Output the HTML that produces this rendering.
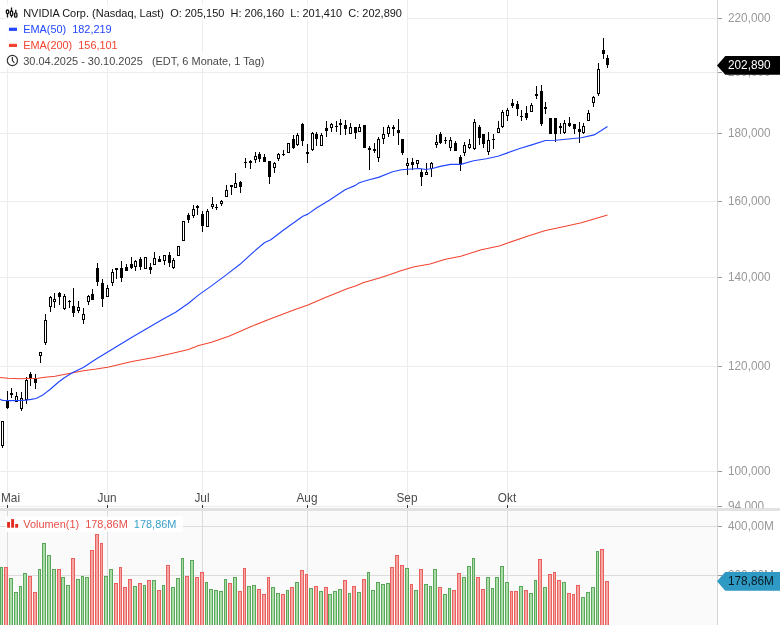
<!DOCTYPE html>
<html lang="de"><head><meta charset="utf-8"><title>NVIDIA Corp. Chart</title>
<style>
html,body{margin:0;padding:0;background:#fff;}
body{width:780px;height:625px;position:relative;overflow:hidden;font-family:"Liberation Sans",sans-serif;font-size:11.7px;}
#chart{position:absolute;left:0;top:0;width:780px;height:625px;}
svg{position:absolute;left:0;top:0;}
.lbl{position:absolute;left:727.5px;color:#999;line-height:14px;height:14px;white-space:nowrap;font-size:12.9px;transform:scaleX(0.915);transform-origin:0 50%;}
.xl{position:absolute;top:490.5px;color:#4a4a4a;line-height:14px;height:14px;white-space:nowrap;font-size:12.9px;transform:scaleX(0.915);transform-origin:50% 50%;}
.leg{position:absolute;left:23.2px;line-height:14px;height:14px;white-space:pre;font-size:10.97px;}
.tag{position:absolute;left:727.5px;line-height:14px;height:14px;white-space:nowrap;font-size:12.9px;transform:scaleX(0.915);transform-origin:0 50%;}
.clip{position:absolute;left:719px;top:0;width:61px;height:508px;overflow:hidden;}
</style></head><body><div id="chart">
<svg width="780" height="625" viewBox="0 0 780 625">
<rect x="0" y="511" width="718" height="114" fill="#fafafa"/>
<g shape-rendering="crispEdges">
<rect x="7" y="0" width="1" height="508" fill="#ececec"/>
<rect x="7" y="511" width="1" height="114" fill="#dcdcdc"/>
<rect x="107" y="0" width="1" height="508" fill="#ececec"/>
<rect x="107" y="511" width="1" height="114" fill="#dcdcdc"/>
<rect x="202" y="0" width="1" height="508" fill="#ececec"/>
<rect x="202" y="511" width="1" height="114" fill="#dcdcdc"/>
<rect x="307" y="0" width="1" height="508" fill="#ececec"/>
<rect x="307" y="511" width="1" height="114" fill="#dcdcdc"/>
<rect x="407" y="0" width="1" height="508" fill="#ececec"/>
<rect x="407" y="511" width="1" height="114" fill="#dcdcdc"/>
<rect x="507" y="0" width="1" height="508" fill="#ececec"/>
<rect x="507" y="511" width="1" height="114" fill="#dcdcdc"/>
<rect x="0" y="18" width="718" height="1" fill="#ececec"/>
<rect x="718" y="18" width="4" height="1" fill="#999"/>
<rect x="0" y="72" width="718" height="1" fill="#ececec"/>
<rect x="718" y="72" width="4" height="1" fill="#999"/>
<rect x="0" y="133" width="718" height="1" fill="#ececec"/>
<rect x="718" y="133" width="4" height="1" fill="#999"/>
<rect x="0" y="201" width="718" height="1" fill="#ececec"/>
<rect x="718" y="201" width="4" height="1" fill="#999"/>
<rect x="0" y="277" width="718" height="1" fill="#ececec"/>
<rect x="718" y="277" width="4" height="1" fill="#999"/>
<rect x="0" y="366" width="718" height="1" fill="#ececec"/>
<rect x="718" y="366" width="4" height="1" fill="#999"/>
<rect x="0" y="471" width="718" height="1" fill="#ececec"/>
<rect x="718" y="471" width="4" height="1" fill="#999"/>
<rect x="0" y="506" width="718" height="1" fill="#ececec"/>
<rect x="718" y="506" width="4" height="1" fill="#999"/>
<rect x="0" y="526" width="718" height="1" fill="#dcdcdc"/>
<rect x="718" y="526" width="4" height="1" fill="#999"/>
<rect x="0" y="575" width="718" height="1" fill="#dcdcdc"/>
<rect x="718" y="575" width="4" height="1" fill="#999"/>
<rect x="717" y="0" width="1" height="625" fill="#d6d6d6"/>
<rect x="0" y="508" width="780" height="3" fill="#e2e2e2"/>
<rect x="7" y="505" width="1" height="3" fill="#333"/>
<rect x="107" y="505" width="1" height="3" fill="#333"/>
<rect x="202" y="505" width="1" height="3" fill="#333"/>
<rect x="307" y="505" width="1" height="3" fill="#333"/>
<rect x="407" y="505" width="1" height="3" fill="#333"/>
<rect x="507" y="505" width="1" height="3" fill="#333"/>
<rect x="2" y="421" width="1" height="27" fill="#000"/>
<rect x="1" y="421" width="3" height="25" fill="#000"/>
<rect x="2" y="422" width="1" height="23" fill="#fff"/>
<rect x="7" y="391" width="1" height="18" fill="#000"/>
<rect x="6" y="400" width="3" height="8" fill="#000"/>
<rect x="11" y="388" width="1" height="10" fill="#000"/>
<rect x="10" y="393" width="3" height="2" fill="#000"/>
<rect x="16" y="392" width="1" height="10" fill="#000"/>
<rect x="15" y="396" width="3" height="6" fill="#000"/>
<rect x="16" y="397" width="1" height="4" fill="#fff"/>
<rect x="21" y="392" width="1" height="19" fill="#000"/>
<rect x="20" y="398" width="3" height="11" fill="#000"/>
<rect x="21" y="399" width="1" height="9" fill="#fff"/>
<rect x="26" y="377" width="1" height="27" fill="#000"/>
<rect x="25" y="380" width="3" height="20" fill="#000"/>
<rect x="26" y="381" width="1" height="18" fill="#fff"/>
<rect x="30" y="372" width="1" height="14" fill="#000"/>
<rect x="29" y="374" width="3" height="5" fill="#000"/>
<rect x="35" y="374" width="1" height="15" fill="#000"/>
<rect x="34" y="378" width="3" height="5" fill="#000"/>
<rect x="40" y="352" width="1" height="11" fill="#000"/>
<rect x="39" y="352" width="3" height="4" fill="#000"/>
<rect x="40" y="353" width="1" height="2" fill="#fff"/>
<rect x="45" y="314" width="1" height="31" fill="#000"/>
<rect x="44" y="320" width="3" height="23" fill="#000"/>
<rect x="45" y="321" width="1" height="21" fill="#fff"/>
<rect x="50" y="296" width="1" height="16" fill="#000"/>
<rect x="49" y="297" width="3" height="10" fill="#000"/>
<rect x="50" y="298" width="1" height="8" fill="#fff"/>
<rect x="54" y="293" width="1" height="15" fill="#000"/>
<rect x="53" y="299" width="3" height="3" fill="#000"/>
<rect x="54" y="300" width="1" height="1" fill="#fff"/>
<rect x="59" y="292" width="1" height="13" fill="#000"/>
<rect x="58" y="293" width="3" height="4" fill="#000"/>
<rect x="64" y="294" width="1" height="16" fill="#000"/>
<rect x="63" y="296" width="3" height="13" fill="#000"/>
<rect x="64" y="297" width="1" height="11" fill="#fff"/>
<rect x="69" y="300" width="1" height="8" fill="#000"/>
<rect x="68" y="301" width="3" height="1" fill="#000"/>
<rect x="73" y="288" width="1" height="29" fill="#000"/>
<rect x="72" y="306" width="3" height="7" fill="#000"/>
<rect x="78" y="301" width="1" height="12" fill="#000"/>
<rect x="77" y="307" width="3" height="4" fill="#000"/>
<rect x="78" y="308" width="1" height="2" fill="#fff"/>
<rect x="83" y="308" width="1" height="16" fill="#000"/>
<rect x="82" y="314" width="3" height="6" fill="#000"/>
<rect x="83" y="315" width="1" height="4" fill="#fff"/>
<rect x="88" y="295" width="1" height="10" fill="#000"/>
<rect x="87" y="296" width="3" height="6" fill="#000"/>
<rect x="88" y="297" width="1" height="4" fill="#fff"/>
<rect x="92" y="289" width="1" height="11" fill="#000"/>
<rect x="91" y="294" width="3" height="6" fill="#000"/>
<rect x="97" y="263" width="1" height="23" fill="#000"/>
<rect x="96" y="268" width="3" height="14" fill="#000"/>
<rect x="102" y="279" width="1" height="28" fill="#000"/>
<rect x="101" y="283" width="3" height="16" fill="#000"/>
<rect x="107" y="285" width="1" height="12" fill="#000"/>
<rect x="106" y="288" width="3" height="9" fill="#000"/>
<rect x="107" y="289" width="1" height="7" fill="#fff"/>
<rect x="112" y="269" width="1" height="17" fill="#000"/>
<rect x="111" y="272" width="3" height="11" fill="#000"/>
<rect x="112" y="273" width="1" height="9" fill="#fff"/>
<rect x="116" y="268" width="1" height="11" fill="#000"/>
<rect x="115" y="268" width="3" height="2" fill="#000"/>
<rect x="121" y="261" width="1" height="21" fill="#000"/>
<rect x="120" y="268" width="3" height="10" fill="#000"/>
<rect x="126" y="264" width="1" height="7" fill="#000"/>
<rect x="125" y="267" width="3" height="4" fill="#000"/>
<rect x="131" y="257" width="1" height="12" fill="#000"/>
<rect x="130" y="264" width="3" height="4" fill="#000"/>
<rect x="135" y="260" width="1" height="11" fill="#000"/>
<rect x="134" y="261" width="3" height="6" fill="#000"/>
<rect x="135" y="262" width="1" height="4" fill="#fff"/>
<rect x="140" y="257" width="1" height="13" fill="#000"/>
<rect x="139" y="259" width="3" height="8" fill="#000"/>
<rect x="145" y="257" width="1" height="12" fill="#000"/>
<rect x="144" y="257" width="3" height="12" fill="#000"/>
<rect x="145" y="258" width="1" height="10" fill="#fff"/>
<rect x="150" y="263" width="1" height="11" fill="#000"/>
<rect x="149" y="267" width="3" height="3" fill="#000"/>
<rect x="154" y="252" width="1" height="13" fill="#000"/>
<rect x="153" y="258" width="3" height="7" fill="#000"/>
<rect x="154" y="259" width="1" height="5" fill="#fff"/>
<rect x="159" y="256" width="1" height="6" fill="#000"/>
<rect x="158" y="259" width="3" height="3" fill="#000"/>
<rect x="164" y="255" width="1" height="10" fill="#000"/>
<rect x="163" y="255" width="3" height="6" fill="#000"/>
<rect x="164" y="256" width="1" height="4" fill="#fff"/>
<rect x="169" y="252" width="1" height="15" fill="#000"/>
<rect x="168" y="255" width="3" height="8" fill="#000"/>
<rect x="173" y="258" width="1" height="11" fill="#000"/>
<rect x="172" y="260" width="3" height="8" fill="#000"/>
<rect x="173" y="261" width="1" height="6" fill="#fff"/>
<rect x="178" y="246" width="1" height="10" fill="#000"/>
<rect x="177" y="246" width="3" height="10" fill="#000"/>
<rect x="178" y="247" width="1" height="8" fill="#fff"/>
<rect x="183" y="221" width="1" height="20" fill="#000"/>
<rect x="182" y="221" width="3" height="20" fill="#000"/>
<rect x="183" y="222" width="1" height="18" fill="#fff"/>
<rect x="188" y="213" width="1" height="10" fill="#000"/>
<rect x="187" y="215" width="3" height="5" fill="#000"/>
<rect x="193" y="205" width="1" height="13" fill="#000"/>
<rect x="192" y="209" width="3" height="7" fill="#000"/>
<rect x="193" y="210" width="1" height="5" fill="#fff"/>
<rect x="197" y="205" width="1" height="10" fill="#000"/>
<rect x="196" y="206" width="3" height="2" fill="#000"/>
<rect x="202" y="211" width="1" height="21" fill="#000"/>
<rect x="201" y="214" width="3" height="12" fill="#000"/>
<rect x="207" y="209" width="1" height="18" fill="#000"/>
<rect x="206" y="211" width="3" height="16" fill="#000"/>
<rect x="207" y="212" width="1" height="14" fill="#fff"/>
<rect x="212" y="197" width="1" height="12" fill="#000"/>
<rect x="211" y="204" width="3" height="3" fill="#000"/>
<rect x="212" y="205" width="1" height="1" fill="#fff"/>
<rect x="216" y="204" width="1" height="6" fill="#000"/>
<rect x="215" y="207" width="3" height="1" fill="#000"/>
<rect x="221" y="200" width="1" height="6" fill="#000"/>
<rect x="220" y="201" width="3" height="3" fill="#000"/>
<rect x="221" y="202" width="1" height="1" fill="#fff"/>
<rect x="226" y="185" width="1" height="12" fill="#000"/>
<rect x="225" y="190" width="3" height="7" fill="#000"/>
<rect x="226" y="191" width="1" height="5" fill="#fff"/>
<rect x="231" y="185" width="1" height="10" fill="#000"/>
<rect x="230" y="185" width="3" height="2" fill="#000"/>
<rect x="235" y="173" width="1" height="15" fill="#000"/>
<rect x="234" y="183" width="3" height="5" fill="#000"/>
<rect x="235" y="184" width="1" height="3" fill="#fff"/>
<rect x="240" y="181" width="1" height="12" fill="#000"/>
<rect x="239" y="182" width="3" height="5" fill="#000"/>
<rect x="245" y="158" width="1" height="10" fill="#000"/>
<rect x="244" y="162" width="3" height="1" fill="#000"/>
<rect x="250" y="160" width="1" height="9" fill="#000"/>
<rect x="249" y="161" width="3" height="2" fill="#000"/>
<rect x="255" y="152" width="1" height="11" fill="#000"/>
<rect x="254" y="156" width="3" height="4" fill="#000"/>
<rect x="255" y="157" width="1" height="2" fill="#fff"/>
<rect x="259" y="152" width="1" height="10" fill="#000"/>
<rect x="258" y="154" width="3" height="5" fill="#000"/>
<rect x="264" y="154" width="1" height="8" fill="#000"/>
<rect x="263" y="157" width="3" height="5" fill="#000"/>
<rect x="269" y="161" width="1" height="23" fill="#000"/>
<rect x="268" y="161" width="3" height="16" fill="#000"/>
<rect x="274" y="162" width="1" height="11" fill="#000"/>
<rect x="273" y="163" width="3" height="5" fill="#000"/>
<rect x="274" y="164" width="1" height="3" fill="#fff"/>
<rect x="278" y="153" width="1" height="8" fill="#000"/>
<rect x="277" y="154" width="3" height="5" fill="#000"/>
<rect x="278" y="155" width="1" height="3" fill="#fff"/>
<rect x="283" y="150" width="1" height="6" fill="#000"/>
<rect x="282" y="154" width="3" height="1" fill="#000"/>
<rect x="288" y="143" width="1" height="10" fill="#000"/>
<rect x="287" y="143" width="3" height="10" fill="#000"/>
<rect x="288" y="144" width="1" height="8" fill="#fff"/>
<rect x="293" y="135" width="1" height="14" fill="#000"/>
<rect x="292" y="139" width="3" height="9" fill="#000"/>
<rect x="297" y="133" width="1" height="13" fill="#000"/>
<rect x="296" y="135" width="3" height="10" fill="#000"/>
<rect x="297" y="136" width="1" height="8" fill="#fff"/>
<rect x="302" y="123" width="1" height="23" fill="#000"/>
<rect x="301" y="124" width="3" height="17" fill="#000"/>
<rect x="307" y="144" width="1" height="19" fill="#000"/>
<rect x="306" y="152" width="3" height="2" fill="#000"/>
<rect x="312" y="132" width="1" height="19" fill="#000"/>
<rect x="311" y="133" width="3" height="17" fill="#000"/>
<rect x="312" y="134" width="1" height="15" fill="#fff"/>
<rect x="316" y="132" width="1" height="14" fill="#000"/>
<rect x="315" y="134" width="3" height="5" fill="#000"/>
<rect x="321" y="133" width="1" height="13" fill="#000"/>
<rect x="320" y="135" width="3" height="11" fill="#000"/>
<rect x="321" y="136" width="1" height="9" fill="#fff"/>
<rect x="326" y="121" width="1" height="16" fill="#000"/>
<rect x="325" y="128" width="3" height="3" fill="#000"/>
<rect x="331" y="123" width="1" height="9" fill="#000"/>
<rect x="330" y="124" width="3" height="4" fill="#000"/>
<rect x="331" y="125" width="1" height="2" fill="#fff"/>
<rect x="336" y="121" width="1" height="11" fill="#000"/>
<rect x="335" y="126" width="3" height="1" fill="#000"/>
<rect x="340" y="119" width="1" height="16" fill="#000"/>
<rect x="339" y="123" width="3" height="2" fill="#000"/>
<rect x="345" y="120" width="1" height="15" fill="#000"/>
<rect x="344" y="125" width="3" height="4" fill="#000"/>
<rect x="350" y="123" width="1" height="11" fill="#000"/>
<rect x="349" y="127" width="3" height="7" fill="#000"/>
<rect x="350" y="128" width="1" height="5" fill="#fff"/>
<rect x="355" y="127" width="1" height="12" fill="#000"/>
<rect x="354" y="127" width="3" height="6" fill="#000"/>
<rect x="359" y="124" width="1" height="8" fill="#000"/>
<rect x="358" y="127" width="3" height="5" fill="#000"/>
<rect x="359" y="128" width="1" height="3" fill="#fff"/>
<rect x="364" y="125" width="1" height="23" fill="#000"/>
<rect x="363" y="125" width="3" height="23" fill="#000"/>
<rect x="369" y="146" width="1" height="24" fill="#000"/>
<rect x="368" y="148" width="3" height="2" fill="#000"/>
<rect x="374" y="143" width="1" height="10" fill="#000"/>
<rect x="373" y="149" width="3" height="2" fill="#000"/>
<rect x="378" y="137" width="1" height="25" fill="#000"/>
<rect x="377" y="139" width="3" height="19" fill="#000"/>
<rect x="378" y="140" width="1" height="17" fill="#fff"/>
<rect x="383" y="127" width="1" height="17" fill="#000"/>
<rect x="382" y="134" width="3" height="5" fill="#000"/>
<rect x="383" y="135" width="1" height="3" fill="#fff"/>
<rect x="388" y="125" width="1" height="12" fill="#000"/>
<rect x="387" y="127" width="3" height="7" fill="#000"/>
<rect x="388" y="128" width="1" height="5" fill="#fff"/>
<rect x="393" y="125" width="1" height="11" fill="#000"/>
<rect x="392" y="127" width="3" height="2" fill="#000"/>
<rect x="398" y="119" width="1" height="26" fill="#000"/>
<rect x="397" y="130" width="3" height="3" fill="#000"/>
<rect x="402" y="139" width="1" height="16" fill="#000"/>
<rect x="401" y="139" width="3" height="14" fill="#000"/>
<rect x="407" y="158" width="1" height="17" fill="#000"/>
<rect x="406" y="163" width="3" height="3" fill="#000"/>
<rect x="407" y="164" width="1" height="1" fill="#fff"/>
<rect x="412" y="158" width="1" height="12" fill="#000"/>
<rect x="411" y="162" width="3" height="3" fill="#000"/>
<rect x="417" y="160" width="1" height="8" fill="#000"/>
<rect x="416" y="160" width="3" height="4" fill="#000"/>
<rect x="417" y="161" width="1" height="2" fill="#fff"/>
<rect x="421" y="169" width="1" height="17" fill="#000"/>
<rect x="420" y="172" width="3" height="5" fill="#000"/>
<rect x="426" y="163" width="1" height="12" fill="#000"/>
<rect x="425" y="172" width="3" height="3" fill="#000"/>
<rect x="426" y="173" width="1" height="1" fill="#fff"/>
<rect x="431" y="162" width="1" height="15" fill="#000"/>
<rect x="430" y="163" width="3" height="6" fill="#000"/>
<rect x="431" y="164" width="1" height="4" fill="#fff"/>
<rect x="436" y="135" width="1" height="13" fill="#000"/>
<rect x="435" y="142" width="3" height="3" fill="#000"/>
<rect x="436" y="143" width="1" height="1" fill="#fff"/>
<rect x="440" y="132" width="1" height="12" fill="#000"/>
<rect x="439" y="134" width="3" height="9" fill="#000"/>
<rect x="445" y="137" width="1" height="7" fill="#000"/>
<rect x="444" y="140" width="3" height="1" fill="#000"/>
<rect x="450" y="137" width="1" height="14" fill="#000"/>
<rect x="449" y="140" width="3" height="8" fill="#000"/>
<rect x="450" y="141" width="1" height="6" fill="#fff"/>
<rect x="455" y="141" width="1" height="10" fill="#000"/>
<rect x="454" y="143" width="3" height="8" fill="#000"/>
<rect x="460" y="155" width="1" height="16" fill="#000"/>
<rect x="459" y="157" width="3" height="8" fill="#000"/>
<rect x="464" y="142" width="1" height="14" fill="#000"/>
<rect x="463" y="145" width="3" height="8" fill="#000"/>
<rect x="464" y="146" width="1" height="6" fill="#fff"/>
<rect x="469" y="139" width="1" height="10" fill="#000"/>
<rect x="468" y="144" width="3" height="4" fill="#000"/>
<rect x="469" y="145" width="1" height="2" fill="#fff"/>
<rect x="474" y="119" width="1" height="31" fill="#000"/>
<rect x="473" y="122" width="3" height="27" fill="#000"/>
<rect x="474" y="123" width="1" height="25" fill="#fff"/>
<rect x="479" y="125" width="1" height="20" fill="#000"/>
<rect x="478" y="127" width="3" height="11" fill="#000"/>
<rect x="483" y="134" width="1" height="14" fill="#000"/>
<rect x="482" y="134" width="3" height="10" fill="#000"/>
<rect x="488" y="132" width="1" height="23" fill="#000"/>
<rect x="487" y="140" width="3" height="12" fill="#000"/>
<rect x="488" y="141" width="1" height="10" fill="#fff"/>
<rect x="493" y="134" width="1" height="15" fill="#000"/>
<rect x="492" y="139" width="3" height="1" fill="#000"/>
<rect x="498" y="121" width="1" height="12" fill="#000"/>
<rect x="497" y="128" width="3" height="5" fill="#000"/>
<rect x="498" y="129" width="1" height="3" fill="#fff"/>
<rect x="502" y="110" width="1" height="18" fill="#000"/>
<rect x="501" y="112" width="3" height="15" fill="#000"/>
<rect x="502" y="113" width="1" height="13" fill="#fff"/>
<rect x="507" y="108" width="1" height="13" fill="#000"/>
<rect x="506" y="110" width="3" height="6" fill="#000"/>
<rect x="507" y="111" width="1" height="4" fill="#fff"/>
<rect x="512" y="99" width="1" height="9" fill="#000"/>
<rect x="511" y="103" width="3" height="3" fill="#000"/>
<rect x="517" y="101" width="1" height="15" fill="#000"/>
<rect x="516" y="104" width="3" height="5" fill="#000"/>
<rect x="521" y="110" width="1" height="11" fill="#000"/>
<rect x="520" y="116" width="3" height="1" fill="#000"/>
<rect x="526" y="106" width="1" height="14" fill="#000"/>
<rect x="525" y="113" width="3" height="5" fill="#000"/>
<rect x="531" y="103" width="1" height="9" fill="#000"/>
<rect x="530" y="105" width="3" height="7" fill="#000"/>
<rect x="531" y="106" width="1" height="5" fill="#fff"/>
<rect x="536" y="86" width="1" height="13" fill="#000"/>
<rect x="535" y="94" width="3" height="2" fill="#000"/>
<rect x="541" y="85" width="1" height="41" fill="#000"/>
<rect x="540" y="91" width="3" height="33" fill="#000"/>
<rect x="545" y="102" width="1" height="12" fill="#000"/>
<rect x="544" y="107" width="3" height="2" fill="#000"/>
<rect x="550" y="118" width="1" height="16" fill="#000"/>
<rect x="549" y="118" width="3" height="16" fill="#000"/>
<rect x="555" y="118" width="1" height="24" fill="#000"/>
<rect x="554" y="118" width="3" height="16" fill="#000"/>
<rect x="560" y="123" width="1" height="11" fill="#000"/>
<rect x="559" y="126" width="3" height="2" fill="#000"/>
<rect x="564" y="120" width="1" height="14" fill="#000"/>
<rect x="563" y="123" width="3" height="10" fill="#000"/>
<rect x="564" y="124" width="1" height="8" fill="#fff"/>
<rect x="569" y="117" width="1" height="10" fill="#000"/>
<rect x="568" y="123" width="3" height="3" fill="#000"/>
<rect x="574" y="124" width="1" height="10" fill="#000"/>
<rect x="573" y="124" width="3" height="5" fill="#000"/>
<rect x="579" y="122" width="1" height="21" fill="#000"/>
<rect x="578" y="129" width="3" height="3" fill="#000"/>
<rect x="583" y="123" width="1" height="11" fill="#000"/>
<rect x="582" y="126" width="3" height="7" fill="#000"/>
<rect x="583" y="127" width="1" height="5" fill="#fff"/>
<rect x="588" y="110" width="1" height="11" fill="#000"/>
<rect x="587" y="113" width="3" height="8" fill="#000"/>
<rect x="588" y="114" width="1" height="6" fill="#fff"/>
<rect x="593" y="96" width="1" height="11" fill="#000"/>
<rect x="592" y="97" width="3" height="6" fill="#000"/>
<rect x="593" y="98" width="1" height="4" fill="#fff"/>
<rect x="598" y="63" width="1" height="33" fill="#000"/>
<rect x="597" y="69" width="3" height="25" fill="#000"/>
<rect x="598" y="70" width="1" height="23" fill="#fff"/>
<rect x="603" y="38" width="1" height="21" fill="#000"/>
<rect x="602" y="50" width="3" height="4" fill="#000"/>
<rect x="607" y="55" width="1" height="13" fill="#000"/>
<rect x="606" y="58" width="3" height="7" fill="#000"/>
</g>
<g shape-rendering="crispEdges">
<rect x="0" y="567" width="3" height="58" fill="#5aa65a"/>
<rect x="1" y="568" width="1" height="57" fill="#a9dca6"/>
<rect x="4" y="567" width="4" height="58" fill="#e9605c"/>
<rect x="5" y="568" width="2" height="57" fill="#f5a6a4"/>
<rect x="9" y="578" width="4" height="47" fill="#5aa65a"/>
<rect x="10" y="579" width="2" height="46" fill="#a9dca6"/>
<rect x="14" y="592" width="4" height="33" fill="#5aa65a"/>
<rect x="15" y="593" width="2" height="32" fill="#a9dca6"/>
<rect x="19" y="586" width="3" height="39" fill="#5aa65a"/>
<rect x="20" y="587" width="1" height="38" fill="#a9dca6"/>
<rect x="23" y="573" width="4" height="52" fill="#5aa65a"/>
<rect x="24" y="574" width="2" height="51" fill="#a9dca6"/>
<rect x="28" y="576" width="4" height="49" fill="#e9605c"/>
<rect x="29" y="577" width="2" height="48" fill="#f5a6a4"/>
<rect x="33" y="592" width="4" height="33" fill="#e9605c"/>
<rect x="34" y="593" width="2" height="32" fill="#f5a6a4"/>
<rect x="38" y="569" width="3" height="56" fill="#5aa65a"/>
<rect x="39" y="570" width="1" height="55" fill="#a9dca6"/>
<rect x="42" y="543" width="4" height="82" fill="#5aa65a"/>
<rect x="43" y="544" width="2" height="81" fill="#a9dca6"/>
<rect x="47" y="555" width="4" height="70" fill="#5aa65a"/>
<rect x="48" y="556" width="2" height="69" fill="#a9dca6"/>
<rect x="52" y="569" width="4" height="56" fill="#5aa65a"/>
<rect x="53" y="570" width="2" height="55" fill="#a9dca6"/>
<rect x="57" y="569" width="4" height="56" fill="#e9605c"/>
<rect x="58" y="570" width="2" height="55" fill="#f5a6a4"/>
<rect x="61" y="577" width="4" height="48" fill="#5aa65a"/>
<rect x="62" y="578" width="2" height="47" fill="#a9dca6"/>
<rect x="66" y="585" width="4" height="40" fill="#5aa65a"/>
<rect x="67" y="586" width="2" height="39" fill="#a9dca6"/>
<rect x="71" y="558" width="4" height="67" fill="#e9605c"/>
<rect x="72" y="559" width="2" height="66" fill="#f5a6a4"/>
<rect x="76" y="579" width="4" height="46" fill="#5aa65a"/>
<rect x="77" y="580" width="2" height="45" fill="#a9dca6"/>
<rect x="81" y="576" width="3" height="49" fill="#5aa65a"/>
<rect x="82" y="577" width="1" height="48" fill="#a9dca6"/>
<rect x="85" y="577" width="4" height="48" fill="#5aa65a"/>
<rect x="86" y="578" width="2" height="47" fill="#a9dca6"/>
<rect x="90" y="550" width="4" height="75" fill="#e9605c"/>
<rect x="91" y="551" width="2" height="74" fill="#f5a6a4"/>
<rect x="95" y="534" width="4" height="91" fill="#e9605c"/>
<rect x="96" y="535" width="2" height="90" fill="#f5a6a4"/>
<rect x="100" y="543" width="3" height="82" fill="#e9605c"/>
<rect x="101" y="544" width="1" height="81" fill="#f5a6a4"/>
<rect x="104" y="576" width="4" height="49" fill="#5aa65a"/>
<rect x="105" y="577" width="2" height="48" fill="#a9dca6"/>
<rect x="109" y="569" width="4" height="56" fill="#5aa65a"/>
<rect x="110" y="570" width="2" height="55" fill="#a9dca6"/>
<rect x="114" y="583" width="4" height="42" fill="#e9605c"/>
<rect x="115" y="584" width="2" height="41" fill="#f5a6a4"/>
<rect x="119" y="567" width="3" height="58" fill="#e9605c"/>
<rect x="120" y="568" width="1" height="57" fill="#f5a6a4"/>
<rect x="123" y="587" width="4" height="38" fill="#e9605c"/>
<rect x="124" y="588" width="2" height="37" fill="#f5a6a4"/>
<rect x="128" y="579" width="4" height="46" fill="#e9605c"/>
<rect x="129" y="580" width="2" height="45" fill="#f5a6a4"/>
<rect x="133" y="586" width="4" height="39" fill="#5aa65a"/>
<rect x="134" y="587" width="2" height="38" fill="#a9dca6"/>
<rect x="138" y="583" width="4" height="42" fill="#e9605c"/>
<rect x="139" y="584" width="2" height="41" fill="#f5a6a4"/>
<rect x="143" y="585" width="3" height="40" fill="#5aa65a"/>
<rect x="144" y="586" width="1" height="39" fill="#a9dca6"/>
<rect x="147" y="580" width="4" height="45" fill="#e9605c"/>
<rect x="148" y="581" width="2" height="44" fill="#f5a6a4"/>
<rect x="152" y="580" width="4" height="45" fill="#5aa65a"/>
<rect x="153" y="581" width="2" height="44" fill="#a9dca6"/>
<rect x="157" y="590" width="4" height="35" fill="#e9605c"/>
<rect x="158" y="591" width="2" height="34" fill="#f5a6a4"/>
<rect x="162" y="585" width="3" height="40" fill="#5aa65a"/>
<rect x="163" y="586" width="1" height="39" fill="#a9dca6"/>
<rect x="166" y="565" width="4" height="60" fill="#e9605c"/>
<rect x="167" y="566" width="2" height="59" fill="#f5a6a4"/>
<rect x="171" y="587" width="4" height="38" fill="#5aa65a"/>
<rect x="172" y="588" width="2" height="37" fill="#a9dca6"/>
<rect x="176" y="578" width="4" height="47" fill="#5aa65a"/>
<rect x="177" y="579" width="2" height="46" fill="#a9dca6"/>
<rect x="181" y="558" width="3" height="67" fill="#5aa65a"/>
<rect x="182" y="559" width="1" height="66" fill="#a9dca6"/>
<rect x="185" y="576" width="4" height="49" fill="#e9605c"/>
<rect x="186" y="577" width="2" height="48" fill="#f5a6a4"/>
<rect x="190" y="560" width="4" height="65" fill="#5aa65a"/>
<rect x="191" y="561" width="2" height="64" fill="#a9dca6"/>
<rect x="195" y="577" width="4" height="48" fill="#e9605c"/>
<rect x="196" y="578" width="2" height="47" fill="#f5a6a4"/>
<rect x="200" y="572" width="4" height="53" fill="#e9605c"/>
<rect x="201" y="573" width="2" height="52" fill="#f5a6a4"/>
<rect x="205" y="582" width="3" height="43" fill="#5aa65a"/>
<rect x="206" y="583" width="1" height="42" fill="#a9dca6"/>
<rect x="209" y="589" width="4" height="36" fill="#5aa65a"/>
<rect x="210" y="590" width="2" height="35" fill="#a9dca6"/>
<rect x="214" y="590" width="4" height="35" fill="#5aa65a"/>
<rect x="215" y="591" width="2" height="34" fill="#a9dca6"/>
<rect x="219" y="591" width="4" height="34" fill="#5aa65a"/>
<rect x="220" y="592" width="2" height="33" fill="#a9dca6"/>
<rect x="224" y="579" width="3" height="46" fill="#5aa65a"/>
<rect x="225" y="580" width="1" height="45" fill="#a9dca6"/>
<rect x="228" y="583" width="4" height="42" fill="#e9605c"/>
<rect x="229" y="584" width="2" height="41" fill="#f5a6a4"/>
<rect x="233" y="577" width="4" height="48" fill="#5aa65a"/>
<rect x="234" y="578" width="2" height="47" fill="#a9dca6"/>
<rect x="238" y="591" width="4" height="34" fill="#e9605c"/>
<rect x="239" y="592" width="2" height="33" fill="#f5a6a4"/>
<rect x="243" y="568" width="3" height="57" fill="#e9605c"/>
<rect x="244" y="569" width="1" height="56" fill="#f5a6a4"/>
<rect x="247" y="586" width="4" height="39" fill="#5aa65a"/>
<rect x="248" y="587" width="2" height="38" fill="#a9dca6"/>
<rect x="252" y="585" width="4" height="40" fill="#5aa65a"/>
<rect x="253" y="586" width="2" height="39" fill="#a9dca6"/>
<rect x="257" y="589" width="4" height="36" fill="#e9605c"/>
<rect x="258" y="590" width="2" height="35" fill="#f5a6a4"/>
<rect x="262" y="594" width="4" height="31" fill="#e9605c"/>
<rect x="263" y="595" width="2" height="30" fill="#f5a6a4"/>
<rect x="267" y="577" width="3" height="48" fill="#e9605c"/>
<rect x="268" y="578" width="1" height="47" fill="#f5a6a4"/>
<rect x="271" y="587" width="4" height="38" fill="#5aa65a"/>
<rect x="272" y="588" width="2" height="37" fill="#a9dca6"/>
<rect x="276" y="593" width="4" height="32" fill="#5aa65a"/>
<rect x="277" y="594" width="2" height="31" fill="#a9dca6"/>
<rect x="281" y="594" width="4" height="31" fill="#e9605c"/>
<rect x="282" y="595" width="2" height="30" fill="#f5a6a4"/>
<rect x="286" y="590" width="3" height="35" fill="#5aa65a"/>
<rect x="287" y="591" width="1" height="34" fill="#a9dca6"/>
<rect x="290" y="587" width="4" height="38" fill="#e9605c"/>
<rect x="291" y="588" width="2" height="37" fill="#f5a6a4"/>
<rect x="295" y="582" width="4" height="43" fill="#5aa65a"/>
<rect x="296" y="583" width="2" height="42" fill="#a9dca6"/>
<rect x="300" y="570" width="4" height="55" fill="#e9605c"/>
<rect x="301" y="571" width="2" height="54" fill="#f5a6a4"/>
<rect x="305" y="574" width="3" height="51" fill="#e9605c"/>
<rect x="306" y="575" width="1" height="50" fill="#f5a6a4"/>
<rect x="309" y="588" width="4" height="37" fill="#5aa65a"/>
<rect x="310" y="589" width="2" height="36" fill="#a9dca6"/>
<rect x="314" y="586" width="4" height="39" fill="#e9605c"/>
<rect x="315" y="587" width="2" height="38" fill="#f5a6a4"/>
<rect x="319" y="591" width="4" height="34" fill="#5aa65a"/>
<rect x="320" y="592" width="2" height="33" fill="#a9dca6"/>
<rect x="324" y="587" width="4" height="38" fill="#e9605c"/>
<rect x="325" y="588" width="2" height="37" fill="#f5a6a4"/>
<rect x="328" y="594" width="4" height="31" fill="#5aa65a"/>
<rect x="329" y="595" width="2" height="30" fill="#a9dca6"/>
<rect x="333" y="591" width="4" height="34" fill="#5aa65a"/>
<rect x="334" y="592" width="2" height="33" fill="#a9dca6"/>
<rect x="338" y="589" width="4" height="36" fill="#5aa65a"/>
<rect x="339" y="590" width="2" height="35" fill="#a9dca6"/>
<rect x="343" y="580" width="4" height="45" fill="#e9605c"/>
<rect x="344" y="581" width="2" height="44" fill="#f5a6a4"/>
<rect x="348" y="593" width="3" height="32" fill="#5aa65a"/>
<rect x="349" y="594" width="1" height="31" fill="#a9dca6"/>
<rect x="352" y="586" width="4" height="39" fill="#e9605c"/>
<rect x="353" y="587" width="2" height="38" fill="#f5a6a4"/>
<rect x="357" y="592" width="4" height="33" fill="#5aa65a"/>
<rect x="358" y="593" width="2" height="32" fill="#a9dca6"/>
<rect x="362" y="579" width="4" height="46" fill="#e9605c"/>
<rect x="363" y="580" width="2" height="45" fill="#f5a6a4"/>
<rect x="367" y="572" width="3" height="53" fill="#5aa65a"/>
<rect x="368" y="573" width="1" height="52" fill="#a9dca6"/>
<rect x="371" y="590" width="4" height="35" fill="#5aa65a"/>
<rect x="372" y="591" width="2" height="34" fill="#a9dca6"/>
<rect x="376" y="582" width="4" height="43" fill="#5aa65a"/>
<rect x="377" y="583" width="2" height="42" fill="#a9dca6"/>
<rect x="381" y="584" width="4" height="41" fill="#5aa65a"/>
<rect x="382" y="585" width="2" height="40" fill="#a9dca6"/>
<rect x="386" y="583" width="4" height="42" fill="#5aa65a"/>
<rect x="387" y="584" width="2" height="41" fill="#a9dca6"/>
<rect x="390" y="567" width="4" height="58" fill="#e9605c"/>
<rect x="391" y="568" width="2" height="57" fill="#f5a6a4"/>
<rect x="395" y="555" width="4" height="70" fill="#e9605c"/>
<rect x="396" y="556" width="2" height="69" fill="#f5a6a4"/>
<rect x="400" y="565" width="4" height="60" fill="#e9605c"/>
<rect x="401" y="566" width="2" height="59" fill="#f5a6a4"/>
<rect x="405" y="568" width="4" height="57" fill="#5aa65a"/>
<rect x="406" y="569" width="2" height="56" fill="#a9dca6"/>
<rect x="410" y="584" width="3" height="41" fill="#e9605c"/>
<rect x="411" y="585" width="1" height="40" fill="#f5a6a4"/>
<rect x="414" y="590" width="4" height="35" fill="#5aa65a"/>
<rect x="415" y="591" width="2" height="34" fill="#a9dca6"/>
<rect x="419" y="569" width="4" height="56" fill="#e9605c"/>
<rect x="420" y="570" width="2" height="55" fill="#f5a6a4"/>
<rect x="424" y="584" width="4" height="41" fill="#5aa65a"/>
<rect x="425" y="585" width="2" height="40" fill="#a9dca6"/>
<rect x="429" y="586" width="3" height="39" fill="#5aa65a"/>
<rect x="430" y="587" width="1" height="38" fill="#a9dca6"/>
<rect x="433" y="569" width="4" height="56" fill="#5aa65a"/>
<rect x="434" y="570" width="2" height="55" fill="#a9dca6"/>
<rect x="438" y="587" width="4" height="38" fill="#e9605c"/>
<rect x="439" y="588" width="2" height="37" fill="#f5a6a4"/>
<rect x="443" y="594" width="4" height="31" fill="#5aa65a"/>
<rect x="444" y="595" width="2" height="30" fill="#a9dca6"/>
<rect x="448" y="588" width="3" height="37" fill="#5aa65a"/>
<rect x="449" y="589" width="1" height="36" fill="#a9dca6"/>
<rect x="452" y="590" width="4" height="35" fill="#e9605c"/>
<rect x="453" y="591" width="2" height="34" fill="#f5a6a4"/>
<rect x="457" y="573" width="4" height="52" fill="#e9605c"/>
<rect x="458" y="574" width="2" height="51" fill="#f5a6a4"/>
<rect x="462" y="577" width="4" height="48" fill="#5aa65a"/>
<rect x="463" y="578" width="2" height="47" fill="#a9dca6"/>
<rect x="467" y="566" width="4" height="59" fill="#5aa65a"/>
<rect x="468" y="567" width="2" height="58" fill="#a9dca6"/>
<rect x="472" y="558" width="3" height="67" fill="#5aa65a"/>
<rect x="473" y="559" width="1" height="66" fill="#a9dca6"/>
<rect x="476" y="577" width="4" height="48" fill="#e9605c"/>
<rect x="477" y="578" width="2" height="47" fill="#f5a6a4"/>
<rect x="481" y="589" width="4" height="36" fill="#e9605c"/>
<rect x="482" y="590" width="2" height="35" fill="#f5a6a4"/>
<rect x="486" y="577" width="4" height="48" fill="#5aa65a"/>
<rect x="487" y="578" width="2" height="47" fill="#a9dca6"/>
<rect x="491" y="588" width="3" height="37" fill="#5aa65a"/>
<rect x="492" y="589" width="1" height="36" fill="#a9dca6"/>
<rect x="495" y="577" width="4" height="48" fill="#5aa65a"/>
<rect x="496" y="578" width="2" height="47" fill="#a9dca6"/>
<rect x="500" y="566" width="4" height="59" fill="#5aa65a"/>
<rect x="501" y="567" width="2" height="58" fill="#a9dca6"/>
<rect x="505" y="582" width="4" height="43" fill="#5aa65a"/>
<rect x="506" y="583" width="2" height="42" fill="#a9dca6"/>
<rect x="510" y="591" width="3" height="34" fill="#e9605c"/>
<rect x="511" y="592" width="1" height="33" fill="#f5a6a4"/>
<rect x="514" y="591" width="4" height="34" fill="#e9605c"/>
<rect x="515" y="592" width="2" height="33" fill="#f5a6a4"/>
<rect x="519" y="586" width="4" height="39" fill="#5aa65a"/>
<rect x="520" y="587" width="2" height="38" fill="#a9dca6"/>
<rect x="524" y="590" width="4" height="35" fill="#e9605c"/>
<rect x="525" y="591" width="2" height="34" fill="#f5a6a4"/>
<rect x="529" y="593" width="4" height="32" fill="#5aa65a"/>
<rect x="530" y="594" width="2" height="31" fill="#a9dca6"/>
<rect x="534" y="580" width="3" height="45" fill="#5aa65a"/>
<rect x="535" y="581" width="1" height="44" fill="#a9dca6"/>
<rect x="538" y="559" width="4" height="66" fill="#e9605c"/>
<rect x="539" y="560" width="2" height="65" fill="#f5a6a4"/>
<rect x="543" y="587" width="4" height="38" fill="#5aa65a"/>
<rect x="544" y="588" width="2" height="37" fill="#a9dca6"/>
<rect x="548" y="574" width="4" height="51" fill="#e9605c"/>
<rect x="549" y="575" width="2" height="50" fill="#f5a6a4"/>
<rect x="553" y="572" width="3" height="53" fill="#e9605c"/>
<rect x="554" y="573" width="1" height="52" fill="#f5a6a4"/>
<rect x="557" y="580" width="4" height="45" fill="#e9605c"/>
<rect x="558" y="581" width="2" height="44" fill="#f5a6a4"/>
<rect x="562" y="582" width="4" height="43" fill="#5aa65a"/>
<rect x="563" y="583" width="2" height="42" fill="#a9dca6"/>
<rect x="567" y="593" width="4" height="32" fill="#e9605c"/>
<rect x="568" y="594" width="2" height="31" fill="#f5a6a4"/>
<rect x="572" y="594" width="3" height="31" fill="#e9605c"/>
<rect x="573" y="595" width="1" height="30" fill="#f5a6a4"/>
<rect x="576" y="585" width="4" height="40" fill="#e9605c"/>
<rect x="577" y="586" width="2" height="39" fill="#f5a6a4"/>
<rect x="581" y="597" width="4" height="28" fill="#5aa65a"/>
<rect x="582" y="598" width="2" height="27" fill="#a9dca6"/>
<rect x="586" y="592" width="4" height="33" fill="#5aa65a"/>
<rect x="587" y="593" width="2" height="32" fill="#a9dca6"/>
<rect x="591" y="587" width="4" height="38" fill="#5aa65a"/>
<rect x="592" y="588" width="2" height="37" fill="#a9dca6"/>
<rect x="596" y="551" width="3" height="74" fill="#5aa65a"/>
<rect x="597" y="552" width="1" height="73" fill="#a9dca6"/>
<rect x="600" y="549" width="4" height="76" fill="#e9605c"/>
<rect x="601" y="550" width="2" height="75" fill="#f5a6a4"/>
<rect x="605" y="581" width="4" height="44" fill="#e9605c"/>
<rect x="606" y="582" width="2" height="43" fill="#f5a6a4"/>
</g>
<path d="M0.0,377.4 L8.0,378.3 L20.0,378.7 L38.0,378.3 L45.0,377.3 L55.0,376.2 L64.0,374.5 L71.8,373.1 L83.3,370.7 L96.2,369.0 L107.7,367.2 L132.0,361.5 L152.6,357.7 L170.5,353.8 L188.5,349.5 L198.7,345.6 L211.5,342.3 L229.5,335.9 L250.0,326.9 L270.0,319.0 L295.1,309.5 L307.9,305.1 L327.2,296.7 L347.7,288.5 L355.4,285.9 L363.1,282.8 L378.5,278.2 L388.7,274.9 L401.5,270.5 L414.4,266.7 L430.0,264.0 L445.4,259.2 L460.8,256.2 L481.3,249.7 L499.2,245.9 L506.9,243.3 L527.4,236.2 L545.4,230.5 L563.3,226.7 L581.3,222.8 L594.1,219.0 L607.5,215.0" fill="none" stroke="#f2432e" stroke-width="1.05" stroke-linejoin="round"/>
<path d="M0.0,399.2 L1.5,400.1 L4.0,400.5 L10.0,400.6 L20.0,400.5 L26.0,400.1 L31.0,399.4 L36.0,398.5 L42.0,395.6 L50.0,389.5 L58.0,382.5 L64.0,378.0 L71.8,373.1 L83.3,367.4 L96.2,359.0 L107.7,352.0 L119.2,344.9 L132.0,337.2 L147.4,328.2 L162.8,319.2 L175.6,312.3 L188.5,303.3 L198.7,294.9 L211.5,285.9 L226.9,274.4 L240.0,264.3 L252.8,252.6 L264.4,242.8 L270.8,239.7 L283.6,230.0 L295.1,221.8 L302.8,216.2 L307.9,214.1 L316.9,207.7 L329.7,200.0 L345.1,189.7 L355.4,185.4 L359.2,182.8 L368.2,180.0 L378.5,177.4 L392.6,171.8 L401.5,169.7 L407.9,169.2 L419.5,168.5 L425.9,169.5 L432.3,168.5 L440.3,166.4 L450.5,164.4 L460.8,164.4 L473.6,160.8 L486.4,158.7 L497.9,156.2 L506.9,153.1 L519.7,148.5 L532.6,144.6 L545.4,140.5 L555.6,140.3 L568.5,139.0 L581.3,137.7 L594.1,134.9 L600.5,131.0 L607.5,126.5" fill="none" stroke="#2146ff" stroke-width="1.15" stroke-linejoin="round"/>
<rect x="5.3" y="4" width="401.7" height="16" fill="#fff" fill-opacity="0.88"/>
<rect x="5.3" y="20" width="111.2" height="16" fill="#fff" fill-opacity="0.88"/>
<rect x="5.3" y="36" width="116.7" height="16" fill="#fff" fill-opacity="0.88"/>
<rect x="5.3" y="52" width="263.7" height="16" fill="#fff" fill-opacity="0.88"/>
<g fill="none" stroke="#111" stroke-width="1.3"><path d="M7.5,13.5v4M11.5,7.5v3.5M11.5,15.5v2M15.8,9.8v3"/><rect x="6.4" y="10" width="2.3" height="3.6" rx="1" fill="#fff"/><rect x="10.4" y="11" width="2.3" height="4.5" rx="1" fill="#fff"/><rect x="14.6" y="12.8" width="2.3" height="4.4" rx="1" fill="#fff"/></g>
<rect x="9" y="27.7" width="8" height="3.2" fill="#2146ff"/>
<rect x="9" y="43.8" width="8" height="3.2" fill="#f2432e"/>
<g fill="none" stroke="#333" stroke-width="1.2"><circle cx="12.4" cy="60.5" r="5.1"/><path d="M12.4,57v3.6l2,2.2"/></g>
<rect x="5.5" y="516.5" width="177.5" height="15.5" fill="#fff" fill-opacity="0.85"/>
<g fill="#e22c22"><rect x="7.1" y="522" width="2.9" height="5.7"/><rect x="11.15" y="519.1" width="2.9" height="8.6"/><rect x="15.2" y="524" width="2.9" height="3.7"/></g>
</svg>
<div class="clip">
<div class="lbl" style="left:8.5px;top:10.5px">220,000</div>
<div class="lbl" style="left:8.5px;top:64.5px">200,000</div>
<div class="lbl" style="left:8.5px;top:125.5px">180,000</div>
<div class="lbl" style="left:8.5px;top:193.5px">160,000</div>
<div class="lbl" style="left:8.5px;top:269.5px">140,000</div>
<div class="lbl" style="left:8.5px;top:358.5px">120,000</div>
<div class="lbl" style="left:8.5px;top:463.5px">100,000</div>
<div class="lbl" style="left:8.5px;top:498.5px">94,000</div>
</div>
<div class="lbl" style="top:518.5px">400,00M</div>
<div class="lbl" style="top:567.5px">200,00M</div>
<svg width="780" height="625" viewBox="0 0 780 625" style="pointer-events:none"><path d="M717,65.4 L725.3,56 H780 V74.7 H725.3 Z" fill="#000"/><path d="M717,581.3 L725.2,571.9 H780 V590.8 H725.2 Z" fill="#2e9ac4"/></svg>
<div class="tag" style="top:58px;color:#fff">202,890</div>
<div class="tag" style="top:574px;color:#0a1a24">178,86M</div>
<div class="xl" style="left:1.2px;transform-origin:0 50%">Mai</div>
<div class="xl" style="left:76.8px;width:60px;text-align:center">Jun</div>
<div class="xl" style="left:171.8px;width:60px;text-align:center">Jul</div>
<div class="xl" style="left:276.8px;width:60px;text-align:center">Aug</div>
<div class="xl" style="left:376.8px;width:60px;text-align:center">Sep</div>
<div class="xl" style="left:476.8px;width:60px;text-align:center">Okt</div>
<div class="leg" style="top:5.5px;color:#161616"><span>NVIDIA Corp. (Nasdaq, Last)</span>  <span>O: 205,150</span>  <span>H: 206,160</span>  <span>L: 201,410</span>  <span>C: 202,890</span></div>
<div class="leg" style="top:21.5px;color:#2146ff;font-size:10.9px"><span>EMA(50)</span>  <span>182,219</span></div>
<div class="leg" style="top:37.5px;color:#f2432e;font-size:10.9px"><span>EMA(200)</span>  <span>156,101</span></div>
<div class="leg" style="top:53.5px;color:#484848"><span>30.04.2025 - 30.10.2025</span>   <span>(EDT, 6 Monate, 1 Tag)</span></div>
<div class="leg" style="top:516.7px;color:#e8504a;font-size:10.95px"><span>Volumen(1)</span>  <span>178,86M</span>  <span style="color:#3aa0c8">178,86M</span></div>
</div></body></html>
